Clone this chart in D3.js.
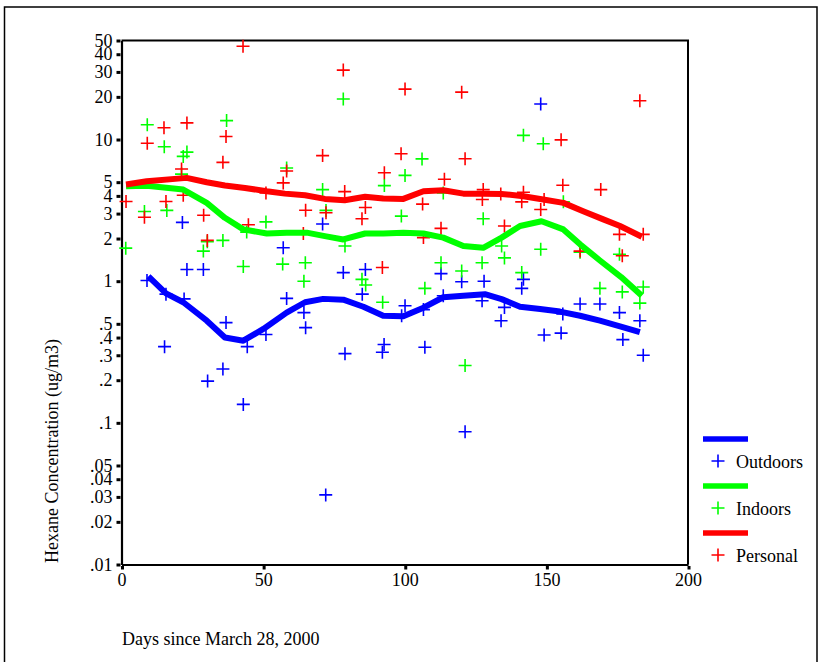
<!DOCTYPE html>
<html><head><meta charset="utf-8">
<script src="https://cdn.jsdelivr.net/npm/d3@7"></script>
<style>body{margin:0;background:#fff}svg{display:block}text{font-family:"Liberation Serif","Times New Roman",serif;fill:#000}</style>
</head><body><svg id="c" width="820" height="662"></svg>
<script>
// ---- data ----
const outDays = [21.5,23.1,28.9,9.0,15.7,22.1,36.9,15.2,35.8,30.4,43.0,44.4,51.0,57.1,58.3,64.4,65.0,71.0,72.1,78.3,78.9,86.1,85.0,92.7,92.1,100.1,98.9,106.6,107.1,112.8,113.6,120.1,121.3,128.0,127.3,134.0,135.2,141.9,141.3,148.0,149.2,155.2,155.8,161.9,168.9,175.8,177.0,183.0,184.2];
const outVals = [2.6,1.21,1.21,1.01,0.81,0.75,0.51,0.345,0.24,0.197,0.135,0.345,0.42,1.72,0.756,0.60,0.47,2.53,0.031,1.15,0.308,1.21,0.81,0.357,0.315,0.67,0.57,0.63,0.342,1.13,0.79,0.99,0.0865,1.0,0.727,0.526,0.653,1.03,0.89,17.8,0.417,0.43,0.586,0.69,0.69,0.60,0.387,0.526,0.30];
const inDays = [9.1,15.1,23.1,21.8,21.2,37.1,8.1,16.0,1.5,35.8,30.3,28.9,43.0,44.2,51.0,56.9,64.9,64.4,58.3,71.0,72.2,78.3,78.9,84.9,86.2,92.2,92.8,100.1,98.8,106.1,107.1,113.6,112.8,120.1,121.3,127.3,127.7,134.2,135.2,141.9,141.3,148.9,148.0,156.0,161.9,168.9,175.8,176.8,184.2,183.0];
const inVals = [12.7,8.9,8.15,7.6,5.7,13.6,3.1,3.16,1.71,1.94,1.90,1.63,1.27,2.22,2.62,1.32,1.35,1.0,6.3,4.43,3.16,19.3,1.77,1.03,0.94,0.71,4.73,5.58,2.88,7.3,0.89,4.2,1.35,1.18,0.254,1.35,2.76,1.77,1.46,10.7,1.15,9.33,1.68,3.63,1.60,0.89,1.55,0.84,0.91,0.70];
const perDays = [15.0,23.1,9.1,36.9,35.8,21.2,1.6,15.7,21.8,8.1,29.0,30.3,42.9,44.8,51.0,57.1,58.3,64.2,65.0,71.0,72.2,78.3,78.8,84.9,86.1,92.1,92.8,98.7,100.1,106.3,106.6,112.8,114.0,120.1,121.3,127.7,127.4,133.9,135.2,141.9,141.3,149.2,148.0,155.2,155.8,161.9,169.2,175.8,176.8,184.2,183.0];
const perVals = [12.1,13.1,9.4,10.5,6.9,6.2,3.65,3.65,4.04,2.83,2.92,1.94,45.5,2.5,4.2,4.94,6.0,2.17,3.17,7.7,3.04,30.9,4.29,2.76,3.31,1.25,5.83,7.94,22.7,3.5,2.03,2.36,5.24,21.6,7.32,4.43,3.77,4.13,2.45,4.24,3.63,3.77,3.21,9.95,4.75,1.63,4.43,2.14,1.51,2.14,18.8];
// smoothed fits
const outFitDays = [9.5,15.7,21.8,30.1,36.5,43,50.1,58.3,64.8,71.2,78.3,85.4,92.4,99.5,106.6,113.6,120.7,128.3,134.2,140.7,147.8,154.8,161.9,168.9,176,183];
const outFitVals = [1.08,0.82,0.71,0.526,0.40,0.38,0.46,0.60,0.71,0.75,0.74,0.66,0.57,0.565,0.65,0.77,0.79,0.81,0.747,0.66,0.636,0.61,0.57,0.526,0.48,0.436];
const inFitDays = [1.6,8.9,21.8,30.1,36.5,43,51.3,58.3,65.4,71.8,78.3,86,92.4,99.5,106.6,113.6,120.7,127.7,134.2,140.7,148.3,156,161.9,168.9,176.4,183.7];
const inFitVals = [4.67,4.72,4.43,3.57,2.80,2.32,2.17,2.20,2.20,2.08,1.97,2.17,2.17,2.20,2.17,2.03,1.77,1.72,2.03,2.45,2.65,2.32,1.82,1.40,1.07,0.79];
const perFitDays = [1.6,8.9,23,30.1,36.5,43.6,51.3,57.7,64.8,71.8,78.8,86,92.4,99.5,106.6,113.6,120.7,127.7,134.2,141.9,148.9,156,163,170.1,176,183.7];
const perFitVals = [4.81,5.07,5.36,4.99,4.73,4.55,4.31,4.15,4.04,3.81,3.73,3.94,3.83,3.81,4.31,4.38,4.15,4.15,4.13,3.98,3.77,3.57,3.12,2.73,2.45,2.06];
const yTicks = [50,40,30,20,10,5,4,3,2,1,0.5,0.4,0.3,0.2,0.1,0.05,0.04,0.03,0.02,0.01];
const yTickLabels = ["50","40","30","20","10","5","4","3","2","1",".5",".4",".3",".2",".1",".05",".04",".03",".02",".01"];
const xTicks = [0,50,100,150,200];
const seriesNames = ["Outdoors","Indoors","Personal"];
const seriesColors = ["#0000ff","#00ff00","#ff0000"];

// ---- drawing ----
const svg = d3.select("#c");
const x = d3.scaleLinear().domain([0,200]).range([121.5,688]);
const y = d3.scaleLog().domain([0.01,50]).range([564.5,40.5]);

// outer border
svg.append("rect").attr("x",4.5).attr("y",7).attr("width",812.5).attr("height",700)
  .attr("fill","none").attr("stroke","#000").attr("stroke-width",1.5);

// frame top/right
svg.append("path").attr("d",`M${x(0)},${y(50)}H${x(200)}V${y(0.01)}`).attr("fill","none").attr("stroke","#000").attr("stroke-width",2);
// axes
const yAxis = d3.axisLeft(y).tickValues(yTicks).tickFormat((d,i)=>yTickLabels[i]).tickSize(0).tickPadding(9);
const gy = svg.append("g").attr("transform",`translate(${x(0)},0)`).call(yAxis);
gy.select(".domain").attr("stroke","#000").attr("stroke-width",2.2);
gy.selectAll(".tick text").attr("font-size",18).attr("font-family","Liberation Serif");
gy.selectAll(".tick").append("rect").attr("x",-5).attr("y",-1.5).attr("width",4).attr("height",3).attr("fill","#000");
const xAxis = d3.axisBottom(x).tickValues(xTicks).tickSize(0).tickPadding(9);
const gx = svg.append("g").attr("transform",`translate(0,${y(0.01)})`).call(xAxis);
gx.select(".domain").attr("stroke","#000").attr("stroke-width",2.2);
gx.selectAll(".tick text").attr("font-size",18).attr("font-family","Liberation Serif");
gx.selectAll(".tick").append("rect").attr("x",-1).attr("y",1.5).attr("width",3).attr("height",3.5).attr("fill","#000");

// axis titles
svg.append("text").attr("transform",`translate(58,451) rotate(-90)`).attr("text-anchor","middle")
  .attr("font-size",18).text("Hexane Concentration (ug/m3)");
svg.append("text").attr("x",122).attr("y",645).attr("font-size",18).text("Days since March 28, 2000");

// clip for plot
const series = [
  {pts: d3.zip(outDays,outVals), fit: d3.zip(outFitDays,outFitVals)},
  {pts: d3.zip(inDays,inVals), fit: d3.zip(inFitDays,inFitVals)},
  {pts: d3.zip(perDays,perVals), fit: d3.zip(perFitDays,perFitVals)}
];
const line = d3.line().x(d=>x(d[0])).y(d=>y(d[1]));
const plus = (cx,cy,r)=>`M${cx-r},${cy}H${cx+r}M${cx},${cy-r}V${cy+r}`;
const order = [1,0,2];
// points
series.forEach((s,i)=>{
  svg.append("g").selectAll("path").data(s.pts).join("path")
    .attr("d",d=>plus(x(d[0]),y(d[1]),6.5))
    .attr("stroke",seriesColors[i]).attr("stroke-width",1.6).attr("fill","none");
});
series.forEach((s,i)=>{
  svg.append("path").datum(s.fit).attr("d",line).attr("fill","none")
    .attr("stroke",seriesColors[i]).attr("stroke-width",6).attr("stroke-linejoin","round");
});

// legend
const lg = svg.append("g");
seriesNames.forEach((n,i)=>{
  const ly = 439 + i*47;
  lg.append("line").attr("x1",703).attr("x2",748).attr("y1",ly).attr("y2",ly)
    .attr("stroke",seriesColors[i]).attr("stroke-width",5.5);
  lg.append("path").attr("d",plus(718,ly+22,6.5)).attr("stroke",seriesColors[i]).attr("stroke-width",1.6);
  lg.append("text").attr("x",736).attr("y",ly+28.5).attr("font-size",18).text(n);
});
</script></body></html>
